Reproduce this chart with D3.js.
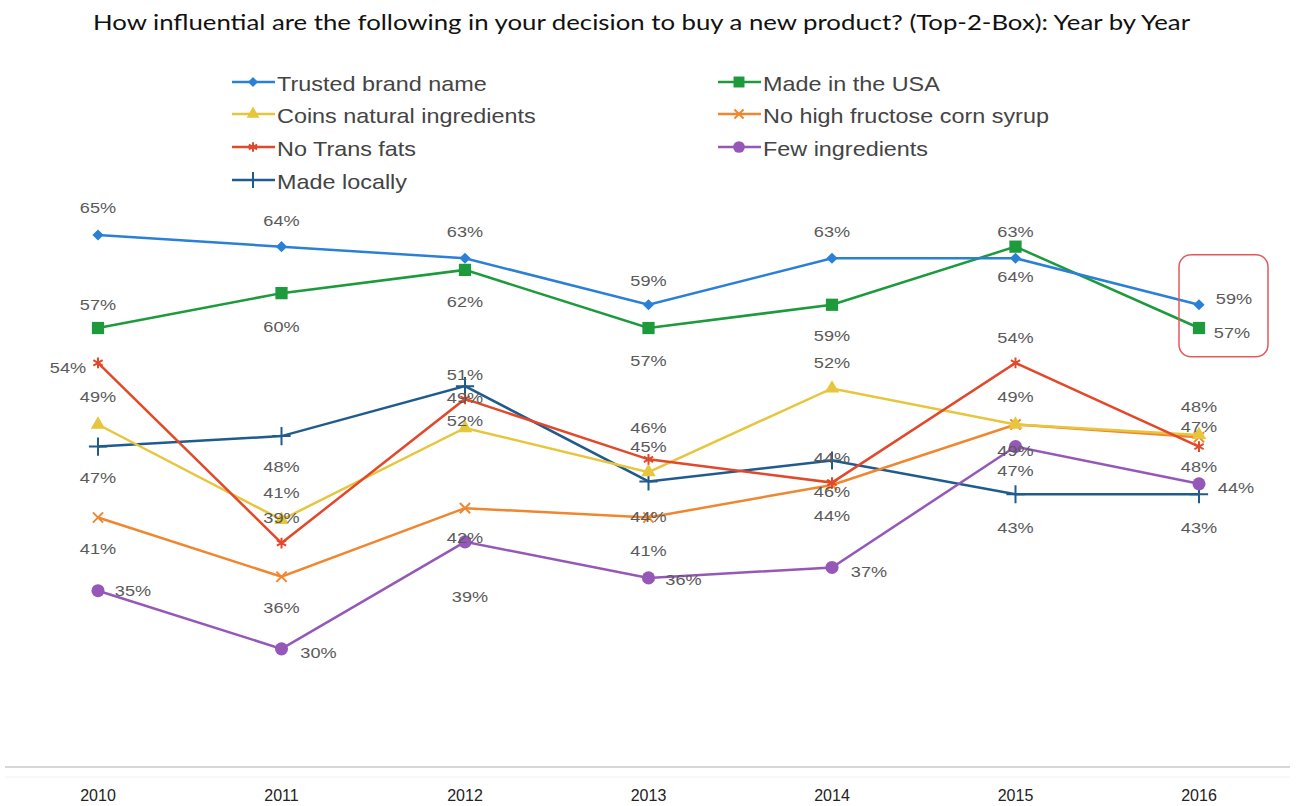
<!DOCTYPE html>
<html>
<head>
<meta charset="utf-8">
<script src="https://cdn.jsdelivr.net/npm/d3@7"></script>
<style>
  body { margin: 0; background: #fff; }
  text { font-family: "Liberation Sans", Arial, sans-serif; }
</style>
</head>
<body>
<div id="chart"></div>
<script>
const years = ["2010", "2011", "2012", "2013", "2014", "2015", "2016"];
const seriesNames = [
  "Trusted brand name", "Made in the USA",
  "Coins natural ingredients", "No high fructose corn syrup",
  "No Trans fats", "Few ingredients",
  "Made locally"
];

// values as plotted (positions)
const trustedBrand = [65, 64, 63, 59, 63, 63, 59];
const madeInUSA = [57, 60, 62, 57, 59, 64, 57];
const naturalIngredients = [48.7, 40.5, 48.4, 44.6, 51.8, 48.7, 47.8];
const noHFCS = [40.7, 35.6, 41.5, 40.7, 43.5, 48.7, 47.6];
const noTransFats = [54, 38.5, 50.9, 45.7, 43.7, 54, 46.8];
const fewIngredients = [34.4, 29.4, 38.6, 35.5, 36.4, 46.8, 43.6];
const madeLocally = [46.8, 47.7, 52, 43.8, 45.6, 42.7, 42.7];

// data label texts as printed on the chart
const trustedBrandLabels = ["65%", "64%", "63%", "59%", "63%", "64%", "59%"];
const madeInUSALabels = ["57%", "60%", "62%", "57%", "59%", "63%", "57%"];
const naturalIngredientsLabels = ["49%", "41%", "52%", "45%", "52%", "49%", "48%"];
const noHFCSLabels = ["41%", "36%", "42%", "41%", "44%", "49%", "47%"];
const noTransFatsLabels = ["54%", "39%", "49%", "46%", "46%", "54%", "48%"];
const fewIngredientsLabels = ["35%", "30%", "39%", "36%", "37%", "47%", "44%"];
const madeLocallyLabels = ["47%", "48%", "51%", "44%", "44%", "43%", "43%"];

// label placement relative to each point (layout only)
const labelDx = [
  [0, 0, 0, 0, 0, 0, 35],
  [0, 0, 0, 0, 0, 0, 33],
  [0, 0, 0, 0, 0, 0, 0],
  [0, 0, 0, 0, 0, 0, 0],
  [-30, 0, 0, 0, 0, 0, 0],
  [35, 37, 5, 35, 37, 0, 37],
  [0, 0, 0, 0, 0, 0, 0]
];
const labelDy = [
  [-27, -26, -27, -24, -27, 18, -6],
  [-23, 33, 32, 33, 31, -15, 5],
  [-28, -27, -7, -26, -26, -28, -28],
  [31, 31, 29, 33, 31, 26, -11],
  [5, -25, -1, -32, 9, -25, 20],
  [0, 4, 55, 2, 4, 24, 4],
  [31, 30, -12, 35, -3, 33, 33]
];

const series = [
  { name: seriesNames[0], values: trustedBrand, labels: trustedBrandLabels, color: "#2a80d6", symbol: d3.symbolDiamond2, size: 80, fill: true },
  { name: seriesNames[1], values: madeInUSA, labels: madeInUSALabels, color: "#1d9a3c", symbol: d3.symbolSquare, size: 150, fill: true },
  { name: seriesNames[2], values: naturalIngredients, labels: naturalIngredientsLabels, color: "#e7c53c", symbol: d3.symbolTriangle, size: 90, fill: true },
  { name: seriesNames[3], values: noHFCS, labels: noHFCSLabels, color: "#f0862e", symbol: d3.symbolTimes, size: 70, fill: false },
  { name: seriesNames[4], values: noTransFats, labels: noTransFatsLabels, color: "#e2482a", symbol: d3.symbolAsterisk, size: 80, fill: false },
  { name: seriesNames[5], values: fewIngredients, labels: fewIngredientsLabels, color: "#9558b8", symbol: d3.symbolCircle, size: 135, fill: true },
  { name: seriesNames[6], values: madeLocally, labels: madeLocallyLabels, color: "#1f5b8e", symbol: d3.symbolPlus, size: 110, fill: false }
];

const width = 1296;
const height = 806;
const stretch = 1.17;

const svg = d3.select("#chart")
  .append("svg")
  .attr("width", width)
  .attr("height", height);

const x = d3.scalePoint().domain(years).range([98, 1199]);
const y = d3.scaleLinear().domain([20, 70]).range([758.1, 176.9]);

// stretched text helper (the original is widened horizontally)
const addText = (g, tx, ty, str, opts) => {
  return g.append("text")
    .attr("transform", `translate(${tx},${ty}) scale(${opts.sx || stretch},1)`)
    .attr("text-anchor", opts.anchor || "middle")
    .attr("dy", "0.35em")
    .attr("font-size", opts.size)
    .attr("fill", opts.color)
    .text(str);
};

// title
svg.append("text")
  .attr("x", 93)
  .attr("y", 30)
  .attr("textLength", 1097)
  .attr("lengthAdjust", "spacingAndGlyphs")
  .style("font-family", "Lato, 'Open Sans', sans-serif")
  .attr("font-size", 21)
  .attr("fill", "#111")
  .text("How influential are the following in your decision to buy a new product? (Top-2-Box): Year by Year");

// legend
const legendCols = [232, 718];
const legendRows = [84, 116, 149, 182];
const legend = svg.append("g");
series.forEach((s, i) => {
  const lx = legendCols[i % 2];
  const ly = legendRows[Math.floor(i / 2)];
  legend.append("line")
    .attr("x1", lx).attr("x2", lx + 43)
    .attr("y1", ly - 2).attr("y2", ly - 2)
    .attr("stroke", s.color)
    .attr("stroke-width", 2.5);
  legend.append("path")
    .attr("d", d3.symbol().type(s.symbol).size(s.size * 0.8)())
    .attr("transform", `translate(${lx + 21},${ly - 2})`)
    .attr("fill", s.fill ? s.color : "none")
    .attr("stroke", s.color)
    .attr("stroke-width", s.fill ? 0 : 2);
  addText(legend, lx + 45, ly, s.name, { size: 20, color: "#444", anchor: "start" });
});

// x axis baseline and labels
svg.append("line")
  .attr("x1", 5).attr("x2", 1290)
  .attr("y1", 767).attr("y2", 767)
  .attr("stroke", "#d6d6d6")
  .attr("stroke-width", 2);
svg.append("line")
  .attr("x1", 5).attr("x2", 1290)
  .attr("y1", 777).attr("y2", 777)
  .attr("stroke", "#f2f2f2")
  .attr("stroke-width", 1);

const xLabels = svg.append("g");
years.forEach(yr => {
  addText(xLabels, x(yr), 795, yr, { size: 16, color: "#222", sx: 1.0 });
});

// lines
const line = d3.line()
  .x((d, i) => x(years[i]))
  .y(d => y(d));

const plot = svg.append("g");
const drawOrder = [6, 3, 5, 2, 4, 1, 0];
drawOrder.forEach(i => {
  const s = series[i];
  plot.append("path")
    .datum(s.values)
    .attr("d", line)
    .attr("fill", "none")
    .attr("stroke", s.color)
    .attr("stroke-width", 2.5);
  plot.selectAll(null)
    .data(s.values)
    .enter()
    .append("path")
    .attr("d", d3.symbol().type(s.symbol).size(s.size))
    .attr("transform", (d, j) => `translate(${x(years[j])},${y(d)})`)
    .attr("fill", s.fill ? s.color : "none")
    .attr("stroke", s.color)
    .attr("stroke-width", s.fill ? 0 : 2);
});

// data labels
const labels = svg.append("g");
series.forEach((s, i) => {
  s.values.forEach((v, j) => {
    addText(labels, x(years[j]) + labelDx[i][j], y(v) + labelDy[i][j], s.labels[j],
      { size: 15.5, color: "#5a5a5a" });
  });
});

// highlight box around the 2016 top values
svg.append("rect")
  .attr("x", x("2016") - 20)
  .attr("y", y(trustedBrand[6]) - 50)
  .attr("width", 89)
  .attr("height", 102)
  .attr("rx", 12)
  .attr("fill", "none")
  .attr("stroke", "#e2585d")
  .attr("stroke-width", 1.5);
</script>
</body>
</html>
